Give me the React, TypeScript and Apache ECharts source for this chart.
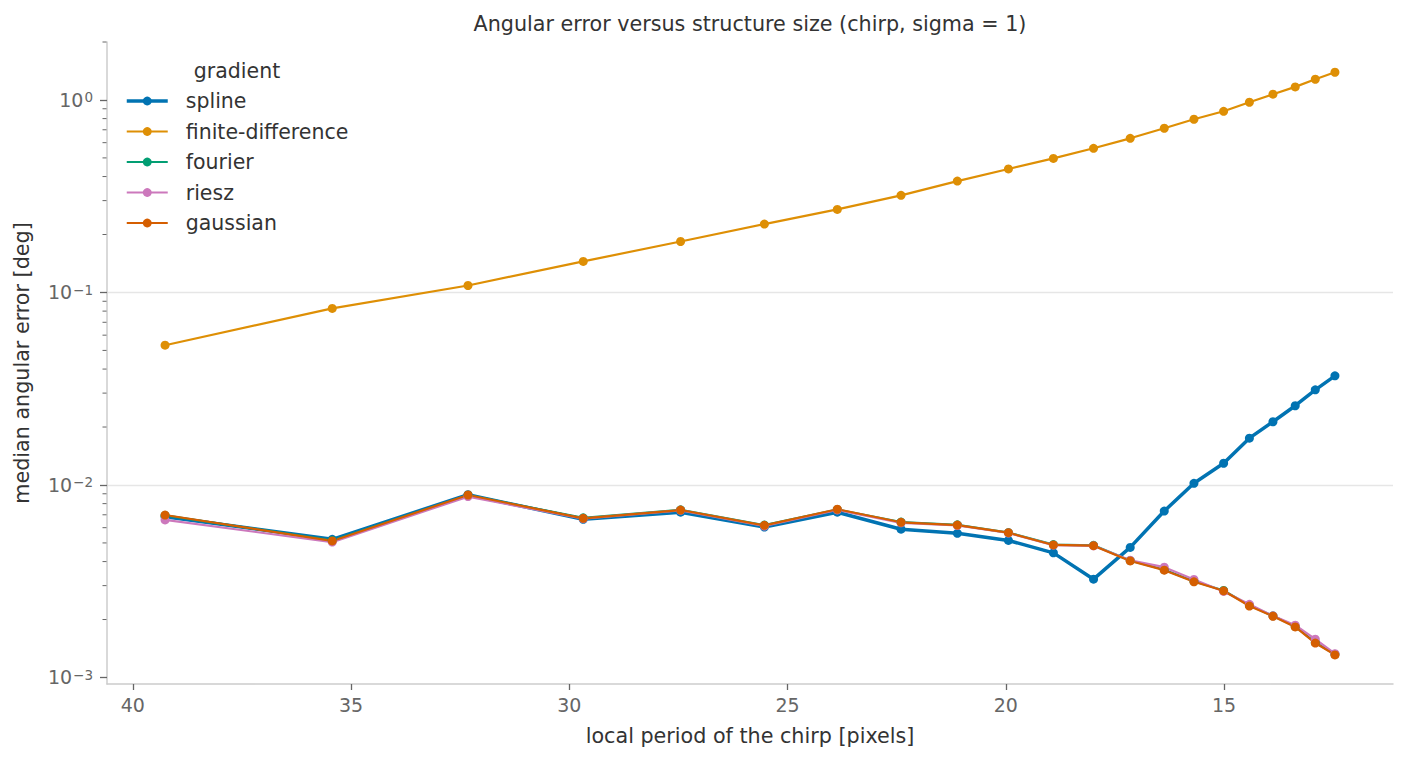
import React, { useEffect, useRef } from "react";
import * as echarts from "echarts";

// local period of the chirp [pixels]
const periods = [39.26, 35.43, 32.32, 29.68, 27.45, 25.53, 23.86, 22.4, 21.11, 19.94, 18.91, 17.99, 17.15, 16.37, 15.69, 15.01, 14.42, 13.88, 13.37, 12.91, 12.46];

// median angular error [deg]
const spline = [0.00684, 0.00522, 0.0089, 0.00663, 0.00722, 0.00605, 0.00722, 0.00589, 0.00561, 0.00515, 0.00444, 0.00324, 0.00474, 0.00732, 0.0102, 0.01297, 0.0175, 0.0213, 0.0258, 0.0312, 0.0369];
const finiteDifference = [0.0532, 0.0826, 0.1087, 0.145, 0.184, 0.2265, 0.27, 0.3194, 0.379, 0.438, 0.497, 0.561, 0.632, 0.713, 0.794, 0.873, 0.973, 1.071, 1.169, 1.281, 1.393];
const fourier = [0.00695, 0.00515, 0.00885, 0.00675, 0.00743, 0.00619, 0.00745, 0.00642, 0.00621, 0.00566, 0.0049, 0.00486, 0.00405, 0.00363, 0.00316, 0.00283, 0.00237, 0.00209, 0.00184, 0.00152, 0.00132];
const riesz = [0.00658, 0.00505, 0.0087, 0.00668, 0.00738, 0.00612, 0.00742, 0.00636, 0.00616, 0.00563, 0.00487, 0.00483, 0.00406, 0.00374, 0.00323, 0.0028, 0.0024, 0.00209, 0.00187, 0.00158, 0.00133];
const gaussian = [0.00698, 0.00512, 0.00887, 0.00671, 0.00741, 0.00617, 0.00748, 0.0064, 0.00619, 0.00565, 0.00488, 0.00484, 0.00403, 0.00361, 0.00314, 0.00282, 0.00235, 0.00208, 0.00183, 0.00151, 0.00131];

const seriesNames = ["spline", "finite-difference", "fourier", "riesz", "gaussian"];
const seriesValues = [spline, finiteDifference, fourier, riesz, gaussian];
const seriesColors = ["#0173b2", "#de8f05", "#029e73", "#cc78bc", "#d55e00"];
const seriesWidths = [3.5, 2.2, 2.2, 2.2, 2.2];

const xTickValues = [40, 35, 30, 25, 20, 15];
const yTickValues = [0.001, 0.01, 0.1, 1];
const yMinorTickValues = [
  0.002, 0.003, 0.004, 0.005, 0.006, 0.007, 0.008, 0.009,
  0.02, 0.03, 0.04, 0.05, 0.06, 0.07, 0.08, 0.09,
  0.2, 0.3, 0.4, 0.5, 0.6, 0.7, 0.8, 0.9, 2,
];

const X_MIN = 11.13;
const X_MAX = 40.59;
const Y_MIN = 0.000925;
const Y_MAX = 2.0;

const TITLE = "Angular error versus structure size (chirp, sigma = 1)";
const LEGEND_TITLE = "gradient";
const X_NAME = "local period of the chirp [pixels]";
const Y_NAME = "median angular error [deg]";

const FONT = "DejaVu Sans";

export default function App() {
  const ref = useRef<HTMLDivElement>(null);

  useEffect(() => {
    if (!ref.current) return;
    const chart = echarts.init(ref.current, null, { renderer: "svg" });

    const lineSeries = seriesNames.map((name, i) => ({
      name,
      type: "line",
      data: periods.map((p, j) => [p, seriesValues[i][j]]),
      symbol: "circle",
      symbolSize: 9,
      showSymbol: true,
      lineStyle: { color: seriesColors[i], width: seriesWidths[i] },
      itemStyle: { color: seriesColors[i], borderWidth: 0 },
      emphasis: { disabled: true },
      silent: true,
    }));

    const minorTickSeries = {
      type: "custom",
      name: "minor-ticks",
      silent: true,
      clip: false,
      data: yMinorTickValues.map((v) => [X_MAX, v]),
      renderItem: (params: any, api: any) => {
        const pt = api.coord([api.value(0), api.value(1)]);
        return {
          type: "line",
          shape: { x1: pt[0] - 4.5, y1: pt[1], x2: pt[0] - 0.5, y2: pt[1] },
          style: { stroke: "#666", lineWidth: 1 },
        };
      },
      z: 3,
    };

    const option: any = {
      animation: false,
      backgroundColor: "#ffffff",
      textStyle: { fontFamily: FONT },
      graphic: [
        {
          type: "text",
          x: 750,
          y: 24,
          style: {
            text: TITLE,
            fontSize: 20.7,
            fontFamily: FONT,
            fill: "#333333",
            align: "center",
            verticalAlign: "middle",
          },
        },
        {
          type: "text",
          x: 237,
          y: 71,
          style: {
            text: LEGEND_TITLE,
            fontSize: 20.5,
            fontFamily: FONT,
            fill: "#333333",
            align: "center",
            verticalAlign: "middle",
          },
        },
      ],
      legend: {
        data: seriesNames.map((name, i) => ({
          name,
          lineStyle: { width: seriesWidths[i], color: seriesColors[i] },
          itemStyle: { color: seriesColors[i] },
        })),
        orient: "vertical",
        left: 125,
        top: 89,
        padding: 0,
        itemWidth: 41,
        itemHeight: 11,
        itemGap: 6.5,
        selectedMode: false,
        textStyle: {
          fontSize: 20.5,
          color: "#333333",
          fontFamily: FONT,
          lineHeight: 24,
          padding: [0, 0, 0, 13],
        },
      },
      grid: {
        left: 107,
        right: 15,
        top: 42,
        bottom: 78,
        containLabel: false,
        outerBoundsMode: "none",
      },
      xAxis: {
        type: "value",
        inverse: true,
        min: X_MIN,
        max: X_MAX,
        name: X_NAME,
        nameLocation: "middle",
        nameGap: 41,
        nameTextStyle: { fontSize: 20.7, color: "#333333", fontFamily: FONT },
        axisLine: { show: true, lineStyle: { color: "#cccccc", width: 1.5 } },
        axisTick: {
          show: true,
          length: 6,
          customValues: xTickValues,
          lineStyle: { color: "#666666", width: 1.3 },
        },
        axisLabel: {
          customValues: xTickValues,
          fontSize: 19,
          color: "#666666",
          fontFamily: FONT,
          margin: 11,
        },
        splitLine: { show: false },
        minorTick: { show: false },
      },
      yAxis: {
        type: "log",
        logBase: 10,
        min: Y_MIN,
        max: Y_MAX,
        name: Y_NAME,
        nameLocation: "middle",
        nameGap: 75,
        nameRotate: 90,
        nameTextStyle: { fontSize: 20.7, color: "#333333", fontFamily: FONT },
        axisLine: { show: true, lineStyle: { color: "#cccccc", width: 1.5 } },
        axisTick: {
          show: true,
          length: 7,
          customValues: yTickValues,
          lineStyle: { color: "#666666", width: 1.3 },
        },
        axisLabel: {
          customValues: yTickValues,
          fontSize: 19,
          color: "#666666",
          fontFamily: FONT,
          margin: 14,
          formatter: (v: number) => {
            const e = Math.round(Math.log10(v));
            const s = e < 0 ? "\u2212" + Math.abs(e) : String(e);
            return "10{sup|" + s + "}";
          },
          rich: {
            sup: {
              fontSize: 13.5,
              color: "#666666",
              fontFamily: FONT,
              verticalAlign: "top",
              padding: [0, 0, 0, 1],
            },
          },
        },
        splitLine: {
          show: true,
          showMinLine: false,
          showMaxLine: false,
          lineStyle: { color: "#e6e6e6", width: 1.3 },
        },
        minorTick: { show: false },
      },
      series: [...lineSeries, minorTickSeries],
    };

    chart.setOption(option);
    return () => {
      chart.dispose();
    };
  }, []);

  return (
    <div
      ref={ref}
      style={{ position: "fixed", left: 0, top: 0, width: 1408, height: 762, background: "#fff" }}
    />
  );
}
